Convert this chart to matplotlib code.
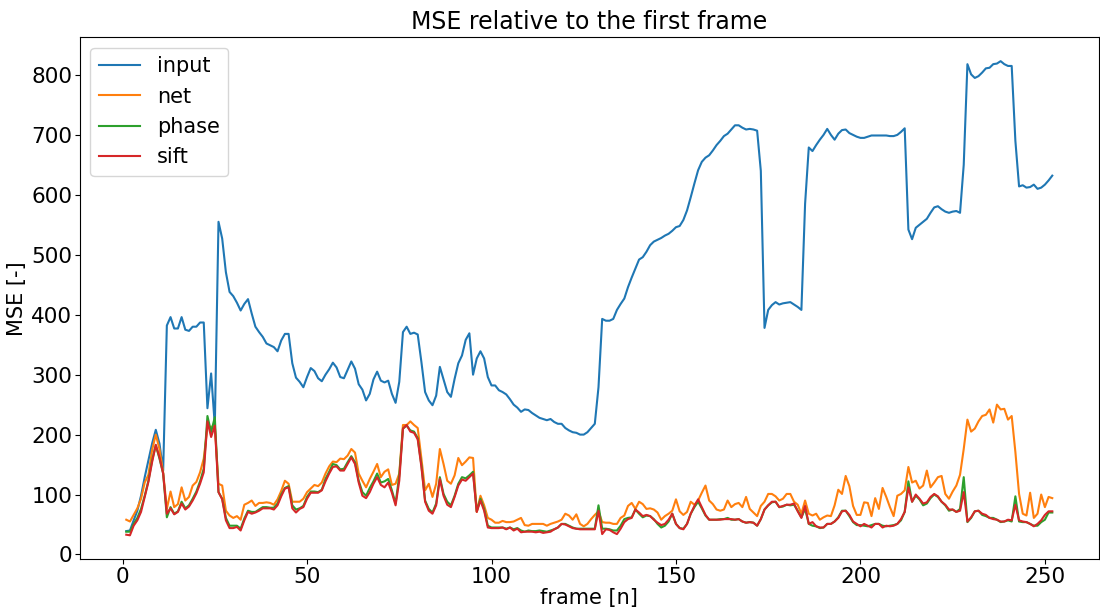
import numpy as np
import matplotlib
matplotlib.use('Agg')
import matplotlib.pyplot as plt

# MSE per frame, frames 1..252
mse_input = [
    39, 40, 57, 73, 98, 129, 157, 185, 208, 185,
    140, 382, 396, 377, 377, 396, 375, 373, 380, 380,
    387, 387, 244, 302, 215, 555, 527, 471, 438, 431,
    420, 407, 418, 426, 402, 380, 371, 363, 352, 349,
    346, 339, 357, 368, 368, 319, 295, 288, 279, 296,
    311, 306, 294, 289, 300, 309, 320, 312, 296, 294,
    308, 322, 310, 284, 275, 257, 268, 292, 305, 290,
    287, 290, 268, 253, 288, 371, 380, 368, 370, 367,
    321, 271, 257, 249, 265, 313, 292, 271, 263, 293,
    319, 332, 358, 369, 300, 327, 339, 327, 296, 282,
    282, 274, 271, 267, 259, 250, 245, 238, 242, 241,
    236, 232, 228, 226, 224, 226, 221, 218, 218, 211,
    207, 204, 203, 200, 200, 204, 211, 218, 279, 393,
    390, 390, 393, 408, 418, 427, 446, 462, 477, 492,
    496, 505, 516, 522, 525, 528, 532, 535, 540, 546,
    548, 558, 574, 596, 619, 641, 655, 662, 666, 674,
    683, 690, 698, 702, 709, 716, 716, 712, 709, 710,
    709, 707, 640, 378, 408, 416, 421, 417, 419, 420,
    421, 417, 413, 408, 585, 679, 673, 683, 692, 700,
    710, 700, 692, 702, 708, 709, 703, 700, 697, 695,
    695, 697, 699, 699, 699, 699, 699, 698, 698, 700,
    705, 711, 542, 526, 545, 550, 555, 560, 570, 579,
    581, 576, 572, 570, 572, 573, 570, 650, 818, 801,
    795, 798, 804, 811, 812, 818, 819, 823, 818, 815,
    815, 690, 614, 616, 612, 613, 617, 610, 612, 617,
    624, 632,
]

mse_net = [
    58, 55, 66, 77, 93, 120, 133, 174, 200, 176,
    137, 76, 105, 79, 84, 112, 90, 96, 115, 121,
    137, 160, 213, 213, 214, 118, 115, 73, 65, 61,
    64, 58, 83, 86, 90, 81, 86, 86, 87, 86,
    83, 92, 106, 123, 118, 88, 88, 88, 93, 104,
    110, 116, 114, 120, 135, 147, 155, 154, 160, 159,
    165, 176, 170, 135, 123, 112, 126, 138, 151, 129,
    138, 142, 116, 118, 135, 216, 216, 222, 216, 211,
    160, 107, 118, 96, 118, 176, 151, 123, 118, 132,
    161, 149, 155, 162, 161, 71, 98, 82, 61, 58,
    53, 53, 56, 54, 54, 55, 58, 61, 49, 48,
    51, 51, 51, 51, 48, 51, 53, 55, 58, 68,
    65, 58, 67, 51, 47, 51, 59, 66, 72, 54,
    53, 53, 51, 51, 61, 65, 81, 86, 76, 88,
    84, 76, 77, 75, 70, 58, 64, 68, 73, 92,
    72, 66, 71, 88, 83, 90, 103, 115, 90, 84,
    75, 73, 75, 90, 79, 84, 86, 79, 96, 76,
    70, 64, 81, 88, 101, 101, 97, 90, 93, 101,
    101, 88, 83, 68, 90, 68, 65, 68, 58, 62,
    65, 64, 82, 108, 101, 131, 114, 81, 66, 66,
    87, 86, 64, 94, 76, 111, 96, 79, 64, 98,
    101, 107, 146, 120, 123, 110, 115, 140, 112, 120,
    129, 131, 101, 93, 105, 115, 133, 176, 225, 205,
    210, 222, 231, 233, 242, 220, 250, 242, 243, 225,
    231, 171, 101, 68, 65, 103, 61, 68, 100, 79,
    96, 94,
]

mse_phase = [
    38, 38, 51, 61, 76, 98, 123, 157, 182, 160,
    135, 62, 79, 68, 72, 88, 77, 82, 93, 105,
    122, 143, 231, 204, 229, 104, 93, 61, 48, 48,
    48, 43, 60, 73, 71, 71, 75, 79, 79, 78,
    78, 85, 100, 111, 114, 82, 75, 77, 81, 96,
    105, 105, 104, 108, 126, 138, 151, 149, 142, 143,
    154, 164, 154, 123, 104, 98, 111, 122, 135, 120,
    122, 126, 107, 85, 132, 210, 215, 207, 205, 194,
    149, 90, 76, 70, 85, 129, 101, 88, 82, 98,
    118, 129, 127, 132, 138, 72, 93, 76, 48, 45,
    45, 45, 45, 43, 45, 42, 44, 40, 38, 40,
    39, 39, 40, 39, 38, 40, 42, 45, 51, 51,
    48, 45, 43, 43, 43, 43, 43, 43, 82, 43,
    43, 42, 40, 40, 48, 59, 61, 62, 75, 68,
    62, 65, 64, 59, 51, 45, 48, 55, 68, 51,
    44, 43, 51, 68, 79, 88, 77, 65, 58, 58,
    58, 59, 59, 61, 58, 58, 59, 55, 53, 54,
    53, 48, 59, 75, 82, 87, 88, 79, 80, 83,
    82, 83, 73, 62, 76, 51, 48, 47, 44, 45,
    51, 51, 55, 62, 73, 73, 64, 54, 49, 49,
    48, 47, 49, 51, 51, 48, 47, 48, 49, 51,
    57, 71, 122, 88, 98, 92, 82, 85, 94, 100,
    96, 88, 82, 73, 75, 71, 76, 129, 54, 61,
    72, 73, 66, 64, 61, 61, 58, 54, 55, 57,
    55, 97, 55, 54, 54, 51, 48, 48, 54, 58,
    70, 70,
]

mse_sift = [
    33, 32, 48, 57, 71, 96, 121, 154, 183, 162,
    135, 68, 77, 67, 71, 85, 75, 80, 90, 102,
    118, 137, 222, 196, 215, 104, 92, 57, 44, 44,
    46, 40, 57, 71, 68, 70, 73, 77, 77, 77,
    75, 82, 97, 110, 112, 77, 70, 76, 79, 93,
    103, 103, 103, 107, 122, 135, 146, 147, 140, 140,
    151, 162, 151, 120, 98, 94, 104, 118, 129, 116,
    112, 120, 103, 82, 123, 210, 216, 205, 203, 192,
    146, 88, 73, 68, 82, 126, 98, 83, 79, 96,
    115, 125, 123, 129, 135, 71, 90, 73, 45, 44,
    44, 44, 45, 42, 45, 40, 43, 37, 38, 38,
    38, 37, 38, 36, 37, 38, 42, 45, 51, 50,
    47, 44, 43, 42, 42, 42, 42, 42, 73, 34,
    42, 41, 37, 34, 43, 54, 59, 61, 75, 70,
    64, 66, 64, 58, 53, 49, 51, 58, 68, 51,
    44, 42, 51, 68, 81, 92, 79, 66, 58, 58,
    58, 58, 59, 59, 59, 58, 59, 55, 53, 54,
    53, 48, 59, 75, 82, 88, 88, 79, 81, 83,
    83, 85, 72, 61, 81, 51, 54, 47, 45, 45,
    51, 51, 55, 61, 72, 73, 66, 55, 51, 47,
    51, 48, 45, 51, 51, 45, 48, 47, 48, 51,
    59, 71, 112, 88, 100, 93, 85, 87, 96, 101,
    97, 88, 83, 75, 75, 71, 73, 104, 55, 62,
    72, 73, 68, 66, 61, 59, 58, 55, 55, 58,
    57, 83, 57, 55, 54, 51, 47, 51, 57, 66,
    72, 72,
]

plt.rcParams['font.size'] = 15

fig = plt.figure(figsize=(11, 6.1), dpi=100)
ax = fig.add_axes([0.0727, 0.0836, 0.926, 0.855])
ax.plot(np.arange(1, len(mse_input) + 1), mse_input, label='input')
ax.plot(np.arange(1, len(mse_net) + 1), mse_net, label='net')
ax.plot(np.arange(1, len(mse_phase) + 1), mse_phase, label='phase')
ax.plot(np.arange(1, len(mse_sift) + 1), mse_sift, label='sift')
ax.tick_params(labelsize=15.5, pad=2)
ax.set_title('MSE relative to the first frame', fontsize=17)
ax.set_xlabel('frame [n]', labelpad=1)
ax.set_ylabel('MSE [-]', labelpad=3)
ax.legend(loc='upper left')

fig.savefig('out.png')
